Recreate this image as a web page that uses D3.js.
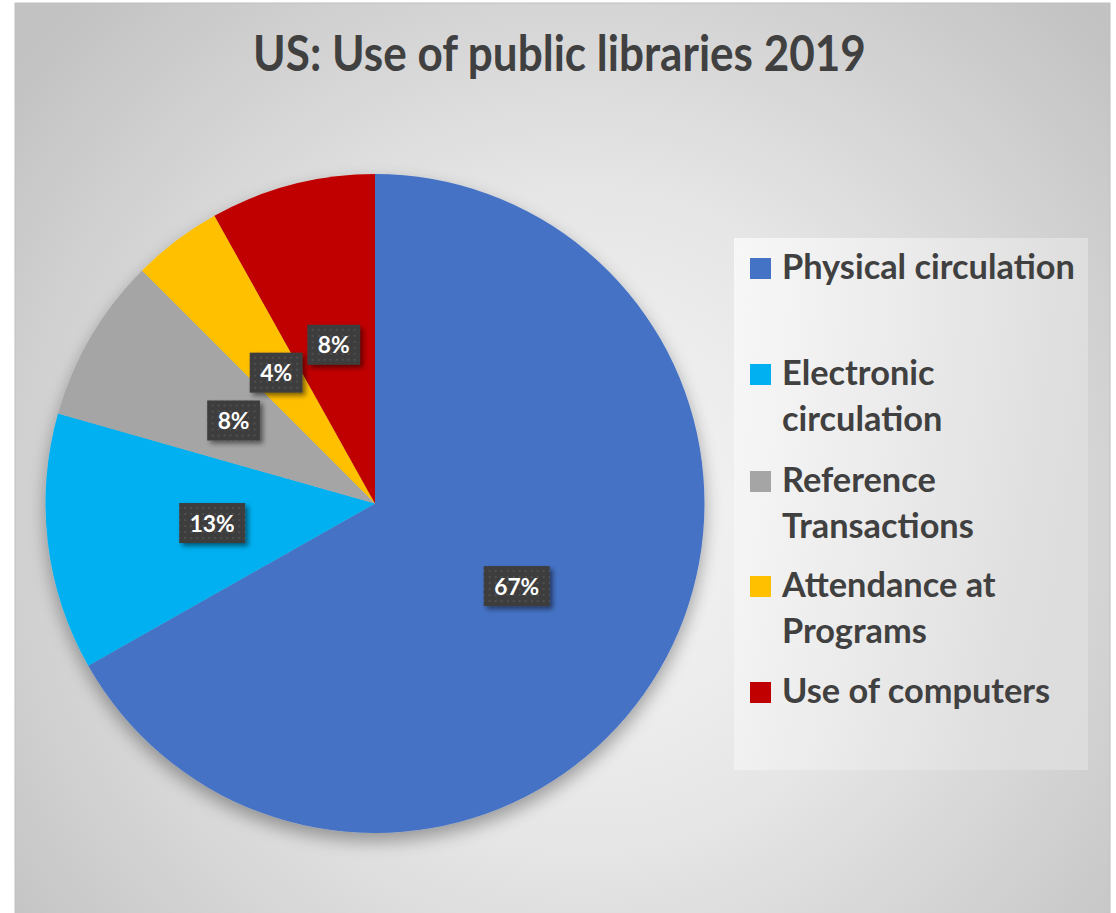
<!DOCTYPE html>
<html>
<head>
<meta charset="utf-8">
<script src="https://cdn.jsdelivr.net/npm/d3@7"></script>
<style>
  html, body { margin: 0; padding: 0; background: #ffffff; }
  svg { display: block; }
</style>
</head>
<body>
<div id="chart-area"></div>
<script>
// chart data
var categories = ["Physical circulation", "Electronic circulation", "Reference Transactions", "Attendance at Programs", "Use of computers"];
var shares = [66.8, 12.6, 8.1, 4.4, 8.1];
var legendLines = [["Physical circulation"], ["Electronic", "circulation"], ["Reference", "Transactions"], ["Attendance at", "Programs"], ["Use of computers"]];
var sliceColors = ["#4472C4", "#00B0F0", "#A5A5A5", "#FFC000", "#C00000"];
var titleText = "US: Use of public libraries 2019";

var width = 1116;
var height = 913;
var cx = 375, cy = 503.5, radius = 329.5;
var textColor = "#404040";
var fontFam = "Lato, 'Open Sans', 'DejaVu Sans', sans-serif";

var svg = d3.select("#chart-area")
    .append("svg")
    .attr("width", width)
    .attr("height", height);

var defs = svg.append("defs");

/* background radial gradient */
var bg = defs.append("radialGradient")
    .attr("id", "bgGrad")
    .attr("gradientUnits", "userSpaceOnUse")
    .attr("cx", 580).attr("cy", 520).attr("r", 720);
bg.append("stop").attr("offset", "0").attr("stop-color", "#f7f7f7");
bg.append("stop").attr("offset", "0.45").attr("stop-color", "#e6e6e6");
bg.append("stop").attr("offset", "1").attr("stop-color", "#c2c2c2");

/* legend box gradient */
var lg = defs.append("linearGradient")
    .attr("id", "legGrad")
    .attr("x1", "0").attr("y1", "0").attr("x2", "1").attr("y2", "0.3");
lg.append("stop").attr("offset", "0").attr("stop-color", "#fafafa");
lg.append("stop").attr("offset", "1").attr("stop-color", "#dedede");

/* soft shadow for the pie */
var pieShadow = defs.append("filter")
    .attr("id", "pieShadow")
    .attr("x", "-20%").attr("y", "-20%").attr("width", "140%").attr("height", "140%");
pieShadow.append("feGaussianBlur").attr("in", "SourceAlpha").attr("stdDeviation", 9).attr("result", "blur");
pieShadow.append("feOffset").attr("in", "blur").attr("dx", 0).attr("dy", 8).attr("result", "off");
pieShadow.append("feComponentTransfer").attr("in", "off").attr("result", "shadow")
    .append("feFuncA").attr("type", "linear").attr("slope", 0.35);
var pm = pieShadow.append("feMerge");
pm.append("feMergeNode").attr("in", "shadow");
pm.append("feMergeNode").attr("in", "SourceGraphic");

/* shadow for the label boxes */
var boxShadow = defs.append("filter")
    .attr("id", "boxShadow")
    .attr("x", "-30%").attr("y", "-30%").attr("width", "160%").attr("height", "160%");
boxShadow.append("feGaussianBlur").attr("in", "SourceAlpha").attr("stdDeviation", 2.5).attr("result", "blur");
boxShadow.append("feOffset").attr("in", "blur").attr("dx", 3).attr("dy", 3).attr("result", "off");
boxShadow.append("feComponentTransfer").attr("in", "off").attr("result", "shadow")
    .append("feFuncA").attr("type", "linear").attr("slope", 0.5);
var bm = boxShadow.append("feMerge");
bm.append("feMergeNode").attr("in", "shadow");
bm.append("feMergeNode").attr("in", "SourceGraphic");

/* dotted texture for the label boxes */
var pat = defs.append("pattern")
    .attr("id", "dots")
    .attr("patternUnits", "userSpaceOnUse")
    .attr("width", 6).attr("height", 6);
pat.append("rect").attr("width", 6).attr("height", 6).attr("fill", "#3d3d3d");
pat.append("rect").attr("x", 2).attr("y", 2).attr("width", 2).attr("height", 2).attr("fill", "#4f4f4f");

/* chart area */
svg.append("rect")
    .attr("x", 15).attr("y", 3)
    .attr("width", 1095).attr("height", 930)
    .attr("fill", "url(#bgGrad)")
    .attr("stroke", "#bfbfbf")
    .attr("stroke-width", 1);

/* title, fitted to the width it has in the reference */
var title = svg.append("text")
    .attr("x", 559.5)
    .attr("y", 71)
    .attr("text-anchor", "middle")
    .attr("font-family", fontFam)
    .attr("font-weight", "bold")
    .attr("font-size", 40)
    .attr("fill", textColor)
    .text(titleText);
var tw = title.node().getComputedTextLength();
title.attr("font-size", 40 * 613 / tw)
    .attr("transform", "translate(0,71) scale(1,1.12) translate(0,-71)");

/* pie */
var pie = d3.pie().value(d => d).sort(null);
var arcs = pie(shares);
var arc = d3.arc().innerRadius(0).outerRadius(radius);
var labelArc = d3.arc().innerRadius(0).outerRadius(328);

var g = svg.append("g").attr("transform", "translate(" + cx + "," + cy + ")");

g.append("g")
    .attr("filter", "url(#pieShadow)")
    .selectAll("path")
    .data(arcs)
    .enter().append("path")
    .attr("d", arc)
    .attr("fill", (d, i) => sliceColors[i]);

/* data labels: size fitted so "67%" is about 45px wide */
var lprobe = svg.append("text")
    .attr("font-family", fontFam)
    .attr("font-weight", "bold")
    .attr("font-size", 100)
    .text("67%");
var labelSize = 100 * 45 / lprobe.node().getComputedTextLength();
lprobe.remove();

var labels = g.selectAll(".lbl")
    .data(arcs)
    .enter().append("g")
    .attr("class", "lbl")
    .attr("transform", d => "translate(" + labelArc.centroid(d) + ")");

labels.each(function(d) {
    var lab = d3.select(this);
    var t = lab.append("text")
        .attr("text-anchor", "middle")
        .attr("y", 8.5)
        .attr("font-family", fontFam)
        .attr("font-weight", "bold")
        .attr("font-size", labelSize)
        .attr("fill", "#ffffff")
        .text(Math.round(d.value) + "%");
    var w = t.node().getComputedTextLength();
    lab.insert("rect", "text")
        .attr("x", -w / 2 - 10.5)
        .attr("y", -20)
        .attr("width", w + 21)
        .attr("height", 40)
        .attr("fill", "url(#dots)")
        .attr("filter", "url(#boxShadow)");
});

/* legend */
svg.append("rect")
    .attr("x", 734).attr("y", 238)
    .attr("width", 354).attr("height", 532)
    .attr("fill", "url(#legGrad)")
    .attr("opacity", 0.85);

var legendBaselines = [279, 385, 492, 597, 703];
var lineGap = 46;

var probe = svg.append("text")
    .attr("font-family", fontFam)
    .attr("font-weight", "bold")
    .attr("font-size", 100)
    .text(legendLines[0][0]);
var legendSize = 100 * 293 / probe.node().getComputedTextLength();
probe.remove();

var legend = svg.append("g").attr("class", "legend");
var items = legend.selectAll("g")
    .data(categories)
    .enter().append("g");

items.append("rect")
    .attr("x", 750)
    .attr("y", (d, i) => legendBaselines[i] - 21)
    .attr("width", 21)
    .attr("height", 21)
    .attr("fill", (d, i) => sliceColors[i]);

items.append("text")
    .attr("font-family", fontFam)
    .attr("font-weight", "bold")
    .attr("font-size", legendSize)
    .attr("fill", textColor)
    .each(function(d, i) {
        d3.select(this).selectAll("tspan")
            .data(legendLines[i])
            .enter().append("tspan")
            .attr("x", 782)
            .attr("y", (s, j) => legendBaselines[i] + j * lineGap)
            .text(s => s);
    });
</script>
</body>
</html>
